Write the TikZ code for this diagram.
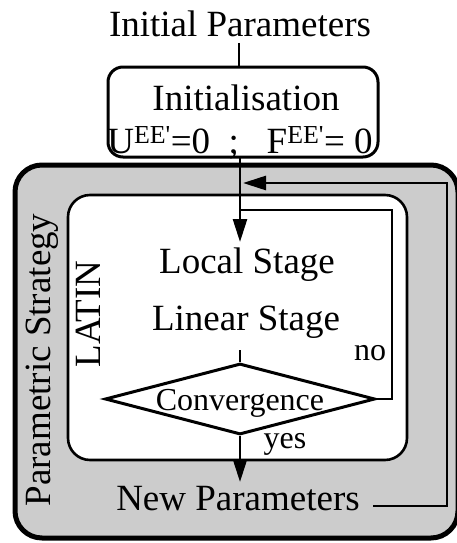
\documentclass[tikz,border=0pt]{standalone}
\usepackage{fontspec}
\setmainfont{Liberation Serif}
\usetikzlibrary{shapes.geometric,arrows.meta}
\begin{document}
\begin{tikzpicture}[x=1pt,y=-1pt,
  big/.style={font=\fontsize{37}{40}\selectfont, inner sep=0pt},
  mid/.style={font=\fontsize{32}{34}\selectfont, inner sep=0pt},
  conn/.style={line width=2.6pt},
  arr/.style={conn,-{Triangle[length=23pt,width=14pt]}},
  outerbox/.style={line width=5pt, fill=black!20, rounded corners=27pt},
  innerbox/.style={line width=2.6pt, fill=white, rounded corners=22pt},
  initbox/.style={draw, line width=3pt, fill=white, rounded corners=15pt, minimum width=270pt, minimum height=90pt, inner sep=0pt},
  test/.style={draw, diamond, line width=3pt, minimum width=270pt, minimum height=71pt, inner sep=0pt}
]
\useasboundingbox (0,0) rectangle (456,543);

% containers
\draw[outerbox] (15,165) rectangle (458,538);
\draw[innerbox] (68,195) rectangle (407,460);

% nodes
\node[big, anchor=base] (ip) at (240,37) {Initial Parameters};
\node[initbox] (init) at (243,112) {};
\node[big, anchor=base] (initT) at (246,110) {Initialisation};
\node[big, anchor=base] (initU) at (240,153) {U\textsuperscript{EE\textquotesingle}=0\enspace ;\enspace\ F\textsuperscript{EE\textquotesingle}= 0};

\node[big, anchor=base] (local) at (247,273) {Local Stage};
\node[big, anchor=base] (linear) at (246,330) {Linear Stage};
\node[test] (dia) at (240,399) {};
\node[mid, anchor=base] (conv) at (240,410) {Convergence};
\node[mid, anchor=base] (yes) at (285,448) {yes};
\node[mid, anchor=base] (no) at (370,360) {no};
\node[big, anchor=base] (np) at (238,510) {New Parameters};

\node[big, anchor=base, rotate=90] (ps) at (50,360) {Parametric Strategy};
\node[big, anchor=base, rotate=90] (latin) at (100,314) {LATIN};

% helper coordinates
\coordinate (ipB) at (239,43);
\coordinate (initTop) at (239,67);
\coordinate (initBot) at (240,157);
\coordinate (tipA) at (240,242);
\coordinate (tipB) at (243,183);
\coordinate (tipC) at (240,482);
\coordinate (linB) at (240,350);
\coordinate (npR) at (373,506);
\coordinate (noJ) at (240,210);

% connectors
\draw[conn] (ipB) -- (initTop);
\draw[arr] (initBot) -- (tipA);
\draw[arr] (npR) -| (447,183) -- (tipB);
\draw[conn] (dia.east) -| (392,210) -- (noJ);
\draw[conn] (linB) -- (dia.north);
\draw[arr] (dia.south) -- (tipC);
\end{tikzpicture}
\end{document}
